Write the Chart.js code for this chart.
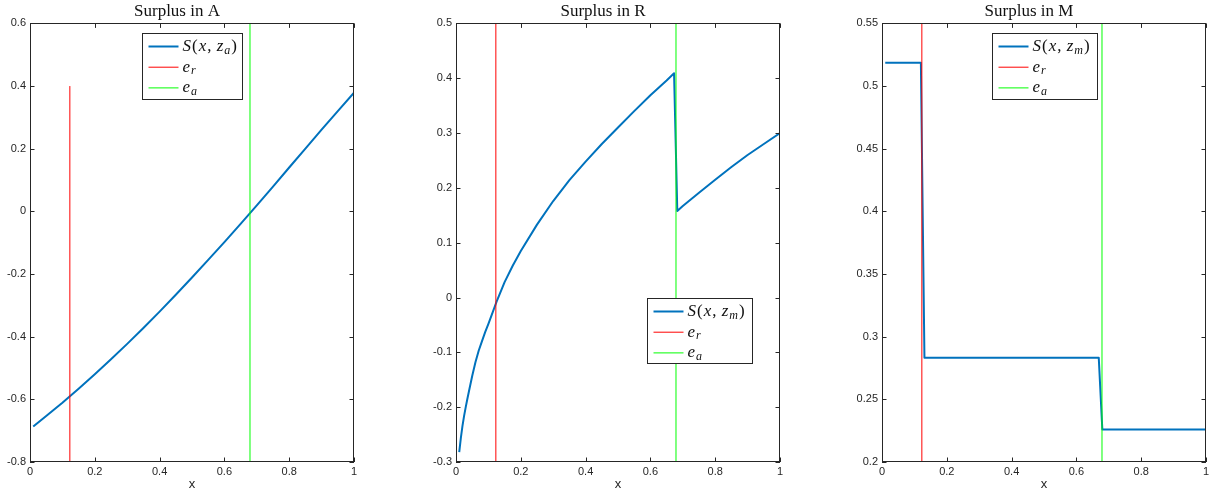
<!DOCTYPE html>
<html>
<head>
<meta charset="utf-8">
<script src="https://cdn.jsdelivr.net/npm/chart.js@4.4.1/dist/chart.umd.min.js"></script>
<style>
  html, body { margin: 0; padding: 0; background: #fff; overflow: hidden; }
  #wrap { position: relative; width: 1221px; height: 494px; }
  canvas { position: absolute; top: 0; }
</style>
</head>
<body>
<div id="wrap">
  <canvas id="chartA" width="369" height="494" style="left:0px"></canvas>
  <canvas id="chartR" width="369" height="494" style="left:426px"></canvas>
  <canvas id="chartM" width="369" height="494" style="left:852px"></canvas>
</div>
<script>
// shared x ticks and thresholds
const xTicks = [0, 0.2, 0.4, 0.6, 0.8, 1];
const eR = 0.123;
const eA = 0.679;

// Surplus in A
const xA = [0.01, 0.05, 0.1, 0.15, 0.2, 0.25, 0.3, 0.35, 0.4, 0.45, 0.5,
            0.55, 0.6, 0.65, 0.7, 0.75, 0.8, 0.85, 0.9, 0.95, 1];
const surplusA = [-0.687, -0.653, -0.611, -0.566, -0.52, -0.472, -0.423, -0.372, -0.32, -0.266, -0.211,
                  -0.155, -0.098, -0.04, 0.019, 0.079, 0.14, 0.2, 0.261, 0.32, 0.379];
const yTicksA = [-0.8, -0.6, -0.4, -0.2, 0, 0.2, 0.4, 0.6];
const erYA = [-0.8, 0.4];
const eaYA = [-0.8, 0.6];

// Surplus in R
const xR = [0.01, 0.015, 0.02, 0.025, 0.03, 0.035, 0.04, 0.05, 0.06, 0.07, 0.08, 0.09, 0.1, 0.11,
            0.125, 0.15, 0.175, 0.2, 0.25, 0.3, 0.35, 0.4, 0.45, 0.5, 0.55, 0.6, 0.65, 0.673,
            0.683, 0.7, 0.75, 0.8, 0.85, 0.9, 0.95, 1];
const surplusR = [-0.282, -0.256, -0.234, -0.216, -0.2, -0.185, -0.171, -0.143, -0.118, -0.097, -0.08, -0.063, -0.048, -0.032,
                  -0.008, 0.028, 0.058, 0.085, 0.133, 0.176, 0.214, 0.248, 0.28, 0.31, 0.34, 0.369, 0.396, 0.409,
                  0.158, 0.167, 0.191, 0.215, 0.238, 0.26, 0.28, 0.3];
const yTicksR = [-0.3, -0.2, -0.1, 0, 0.1, 0.2, 0.3, 0.4, 0.5];
const erYR = [-0.3, 0.5];
const eaYR = [-0.3, 0.5];

// Surplus in M
const xM = [0.01, 0.12, 0.131, 0.669, 0.68, 1];
const surplusM = [0.5185, 0.5185, 0.2832, 0.2832, 0.226, 0.226];
const yTicksM = [0.2, 0.25, 0.3, 0.35, 0.4, 0.45, 0.5, 0.55];
const erYM = [0.2, 0.55];
const eaYM = [0.2, 0.55];

const BLUE = '#0072BD';
const RED = '#FF0000';
const GREEN = '#00FF00';
const AXIS = '#262626';
const SANS = "'Liberation Sans', Arial, Helvetica, sans-serif";
const SERIF = "'Liberation Serif', 'Times New Roman', serif";

const fmt = v => String(+Number(v).toFixed(2));

// box around the axes with inward ticks on all four sides
const boxPlugin = {
    id: 'matlabBox',
    afterDatasetsDraw(chart) {
        const { ctx, chartArea: a, scales } = chart;
        const len = 4.5;
        ctx.save();
        ctx.strokeStyle = AXIS;
        ctx.lineWidth = 1;
        ctx.strokeRect(Math.round(a.left) + 0.5, Math.round(a.top) + 0.5,
                       Math.round(a.right - a.left) - 1, Math.round(a.bottom - a.top) - 1);
        ctx.beginPath();
        scales.x.ticks.forEach(t => {
            const px = Math.round(scales.x.getPixelForValue(t.value)) + 0.5;
            ctx.moveTo(px, a.bottom); ctx.lineTo(px, a.bottom - len);
            ctx.moveTo(px, a.top); ctx.lineTo(px, a.top + len);
        });
        scales.y.ticks.forEach(t => {
            const py = Math.round(scales.y.getPixelForValue(t.value)) + 0.5;
            ctx.moveTo(a.left, py); ctx.lineTo(a.left + len, py);
            ctx.moveTo(a.right, py); ctx.lineTo(a.right - len, py);
        });
        ctx.stroke();
        ctx.restore();
    }
};

// legend with math-style labels (italic + subscript)
function mathLegend(cfg) {
    return {
        id: 'mathLegend',
        afterDraw(chart) {
            const { ctx, chartArea: a } = chart;
            const x0 = Math.round(a.left + cfg.dx) + 0.5;
            const y0 = Math.round(a.top + cfg.dy) + 0.5;
            ctx.save();
            ctx.fillStyle = '#fff';
            ctx.fillRect(x0, y0, cfg.w, cfg.h);
            ctx.strokeStyle = AXIS;
            ctx.lineWidth = 1;
            ctx.strokeRect(x0, y0, cfg.w, cfg.h);
            cfg.items.forEach((it, i) => {
                const cy = y0 + 13 + i * 20.7;
                ctx.beginPath();
                ctx.strokeStyle = it.color;
                ctx.lineWidth = it.width;
                ctx.moveTo(x0 + 6, cy);
                ctx.lineTo(x0 + 36, cy);
                ctx.stroke();
                let tx = x0 + 40;
                ctx.fillStyle = '#111';
                ctx.textBaseline = 'middle';
                ctx.textAlign = 'left';
                it.label.forEach(([t, kind]) => {
                    if (kind === 'sub') ctx.font = 'italic 12px ' + SERIF;
                    else if (kind === 'i') ctx.font = 'italic 17px ' + SERIF;
                    else ctx.font = '17px ' + SERIF;
                    ctx.fillText(t, tx, kind === 'sub' ? cy + 4 : cy);
                    tx += ctx.measureText(t).width + 1;
                });
            });
            ctx.restore();
        }
    };
}

function sLabel(sub) {
    return [['S', 'i'], ['(', 'n'], ['x', 'i'], [',', 'n'], [' z', 'i'], [sub, 'sub'], [')', 'n']];
}

function legendItems(sub) {
    return [
        { color: BLUE, width: 2, label: sLabel(sub) },
        { color: RED, width: 1, label: [['e', 'i'], ['r', 'sub']] },
        { color: GREEN, width: 1, label: [['e', 'i'], ['a', 'sub']] }
    ];
}

function pts(xs, ys) {
    return xs.map((x, i) => ({ x: x, y: ys[i] }));
}

function makeChart(id, title, xs, ys, yTicks, erY, eaY, legendCfg) {
    const ctx = document.getElementById(id).getContext('2d');
    return new Chart(ctx, {
        type: 'line',
        data: {
            datasets: [
                { data: pts(xs, ys), borderColor: BLUE, borderWidth: 2, borderJoinStyle: 'round', order: 2 },
                { data: pts([eR, eR], erY), borderColor: RED, borderWidth: 1, order: 1 },
                { data: pts([eA, eA], eaY), borderColor: GREEN, borderWidth: 1, order: 0 }
            ]
        },
        options: {
            responsive: false,
            animation: false,
            devicePixelRatio: 1,
            elements: { point: { radius: 0 }, line: { tension: 0, fill: false } },
            layout: { padding: { left: 0, right: 15, top: 0, bottom: 0 } },
            plugins: {
                legend: { display: false },
                tooltip: { enabled: false },
                title: {
                    display: true,
                    text: title,
                    color: '#111',
                    font: { family: SERIF, size: 17, weight: 'normal' },
                    padding: { top: 1, bottom: 2 }
                }
            },
            scales: {
                x: {
                    type: 'linear',
                    min: 0,
                    max: 1,
                    afterBuildTicks: s => { s.ticks = xTicks.map(v => ({ value: v })); },
                    afterFit: s => { s.height = 32; },
                    grid: { display: false, drawTicks: false },
                    border: { display: false },
                    ticks: { callback: fmt, color: AXIS, font: { family: SANS, size: 11 }, padding: 3, maxRotation: 0, autoSkip: false },
                    title: { display: true, text: 'x', color: AXIS, font: { family: SANS, size: 13 }, padding: { top: 0, bottom: 2 } }
                },
                y: {
                    type: 'linear',
                    min: yTicks[0],
                    max: yTicks[yTicks.length - 1],
                    afterBuildTicks: s => { s.ticks = yTicks.map(v => ({ value: v })); },
                    afterFit: s => { s.width = 30; },
                    grid: { display: false, drawTicks: false },
                    border: { display: false },
                    ticks: { callback: fmt, color: AXIS, font: { family: SANS, size: 11 }, padding: 4, autoSkip: false }
                }
            }
        },
        plugins: [boxPlugin, mathLegend(legendCfg)]
    });
}

makeChart('chartA', 'Surplus in A', xA, surplusA, yTicksA, erYA, eaYA,
    { dx: 112, dy: 10, w: 100, h: 66, items: legendItems('a') });
makeChart('chartR', 'Surplus in R', xR, surplusR, yTicksR, erYR, eaYR,
    { dx: 191, dy: 275, w: 105, h: 65, items: legendItems('m') });
makeChart('chartM', 'Surplus in M', xM, surplusM, yTicksM, erYM, eaYM,
    { dx: 110, dy: 10, w: 105, h: 66, items: legendItems('m') });
</script>
</body>
</html>
